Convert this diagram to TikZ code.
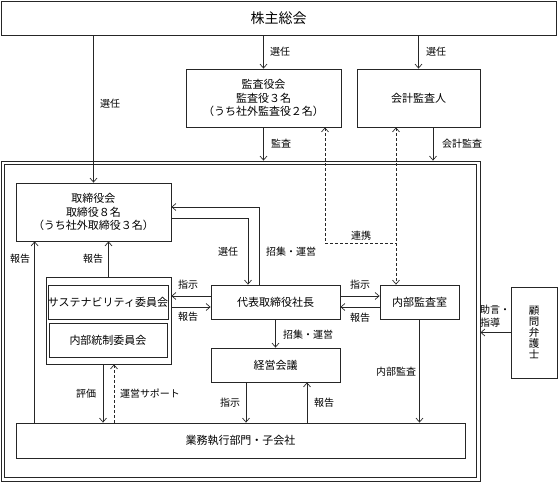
\documentclass[tikz,border=0pt]{standalone}
\usepackage{fontspec}
\setmainfont{Noto Sans CJK JP}
\usetikzlibrary{arrows.meta}
\begin{document}
\begin{tikzpicture}[x=1pt,y=-1pt]
\tikzset{
    box/.style={draw=black!85, line width=.8pt, inner sep=0pt, align=center,
        font=\fontsize{11}{13.5}\selectfont},
    lbl/.style={inner sep=0pt, align=center, font=\fontsize{10}{13}\selectfont},
    arr/.style={draw=black!85, line width=.7pt, -{Straight Barb[length=4pt,width=7pt]}},
    darr/.style={arr, dash pattern=on 3pt off 2pt}}
\def\bh{34}

\useasboundingbox (0,0) rectangle (558,482);

\node[box, minimum width=555, minimum height=34, font=\fontsize{14}{16}\selectfont] (kabu) at (278.5,18) {株主総会};
\node[box, minimum width=155, minimum height=58] (kansa) at (263.5,98) {監査役会\\監査役３名\\（うち社外監査役２名）};
\node[box, minimum width=123, minimum height=58] (kaikei) at (418.5,98) {会計監査人};

\node[box, minimum width=479, minimum height=320] (frame) at (240.5,321) {};
\node[box, minimum width=472, minimum height=313] (framein) at (240.5,321) {};

\node[box, minimum width=155, minimum height=58] (tori) at (93.5,212) {取締役会\\取締役８名\\（うち社外取締役３名）};
\node[box, minimum width=125, minimum height=87] (grp) at (108.5,320.5) {};
\node[box, minimum width=118, minimum height=\bh] (sus) at (108,302) {サステナビリティ委員会};
\node[box, minimum width=118, minimum height=\bh] (naibu) at (108,340) {内部統制委員会};
\node[box, minimum width=129, minimum height=\bh] (daihyo) at (275.5,302) {代表取締役社長};
\node[box, minimum width=79, minimum height=\bh] (naikan) at (419.5,302) {内部監査室};
\node[box, minimum width=129, minimum height=\bh] (keiei) at (275.5,365) {経営会議};
\node[box, minimum width=449, minimum height=35] (gyomu) at (240.5,440.5) {業務執行部門・子会社};
\node[box, minimum width=46, minimum height=91, font=\fontsize{10.5}{11}\selectfont] (komon) at (534,332.5) {顧\\問\\弁\\護\\士};

\coordinate (renkei) at (396,243);

\draw[arr] (kabu.south -| tori.north) -- (tori.north);
\draw[arr] (kabu.south -| kansa.north) -- (kansa.north);
\draw[arr] (kabu.south -| kaikei.north) -- (kaikei.north);
\draw[arr] (kansa.south) -- (kansa.south |- frame.north);
\draw[arr] ([xshift=14.5pt]kaikei.south) -- ([xshift=14.5pt]kaikei.south |- frame.north);

\draw[darr, {Straight Barb[length=4pt,width=7pt]}-] ([xshift=61.5pt]kansa.south) |- (renkei);
\draw[darr, {Straight Barb[length=4pt,width=7pt]}-{Straight Barb[length=4pt,width=7pt]}] (kaikei.south -| renkei) -- (naikan.north -| renkei);

\draw[arr] ([xshift=19pt]gyomu.north west) -- ([xshift=19pt]gyomu.north west |- tori.south);
\draw[arr] (grp.north) -- (grp.north |- tori.south);
\draw[arr] ([xshift=-16.5pt]daihyo.north) |- ([yshift=5pt]tori.east);
\draw[arr] ([yshift=-6pt]tori.east) -| ([xshift=-27.5pt]daihyo.north);

\draw[arr] ([yshift=6pt]daihyo.west) -- ([yshift=6pt]daihyo.west -| grp.east);
\draw[arr] ([yshift=-5pt]daihyo.west -| grp.east) -- ([yshift=-5pt]daihyo.west);
\draw[arr] ([yshift=6pt]daihyo.east) -- ([yshift=6pt]daihyo.east -| naikan.west);
\draw[arr] ([yshift=-5pt]daihyo.east -| naikan.west) -- ([yshift=-5pt]daihyo.east);

\draw[arr] (daihyo.south) -- (keiei.north);
\draw[arr] ([xshift=-29.5pt]keiei.south) -- ([xshift=-29.5pt]keiei.south |- gyomu.north);
\draw[arr] ([xshift=31.5pt]keiei.south |- gyomu.north) -- ([xshift=31.5pt]keiei.south);
\draw[arr] (naikan.south) -- (naikan.south |- gyomu.north);
\draw[arr] ([xshift=-5.5pt]grp.south) -- ([xshift=-5.5pt]grp.south |- gyomu.north);
\draw[darr] ([xshift=5.5pt]grp.south |- gyomu.north) -- ([xshift=5.5pt]grp.south);
\draw[arr] (komon.west) -- (komon.west -| frame.east);

\node[lbl] (l-sennin1) at (110,104) {選任};
\node[lbl] (l-sennin2) at (280,52) {選任};
\node[lbl] (l-sennin3) at (436,52) {選任};
\node[lbl] (l-kansa) at (281,144) {監査};
\node[lbl] (l-kaikei) at (462,144) {会計監査};
\node[lbl] (l-renkei) at (361,236) {連携};
\node[lbl] (l-hokoku1) at (20,259) {報告};
\node[lbl] (l-hokoku2) at (93,259) {報告};
\node[lbl] (l-sennin4) at (228,252) {選任};
\node[lbl] (l-shoshu1) at (291,252) {招集・運営};
\node[lbl] (l-shiji1) at (188,285) {指示};
\node[lbl] (l-hokoku3) at (188,317) {報告};
\node[lbl] (l-shiji2) at (360,285) {指示};
\node[lbl] (l-hokoku4) at (360,318) {報告};
\node[lbl, align=left] (l-jogen) at (495,316) {助言・\\指導};
\node[lbl] (l-shoshu2) at (308,335) {招集・運営};
\node[lbl] (l-naibu) at (396,372) {内部監査};
\node[lbl] (l-hyoka) at (86,394) {評価};
\node[lbl] (l-unei) at (150,394) {運営サポート};
\node[lbl] (l-shiji3) at (230,403) {指示};
\node[lbl] (l-hokoku5) at (324,403) {報告};

\end{tikzpicture}
\end{document}
